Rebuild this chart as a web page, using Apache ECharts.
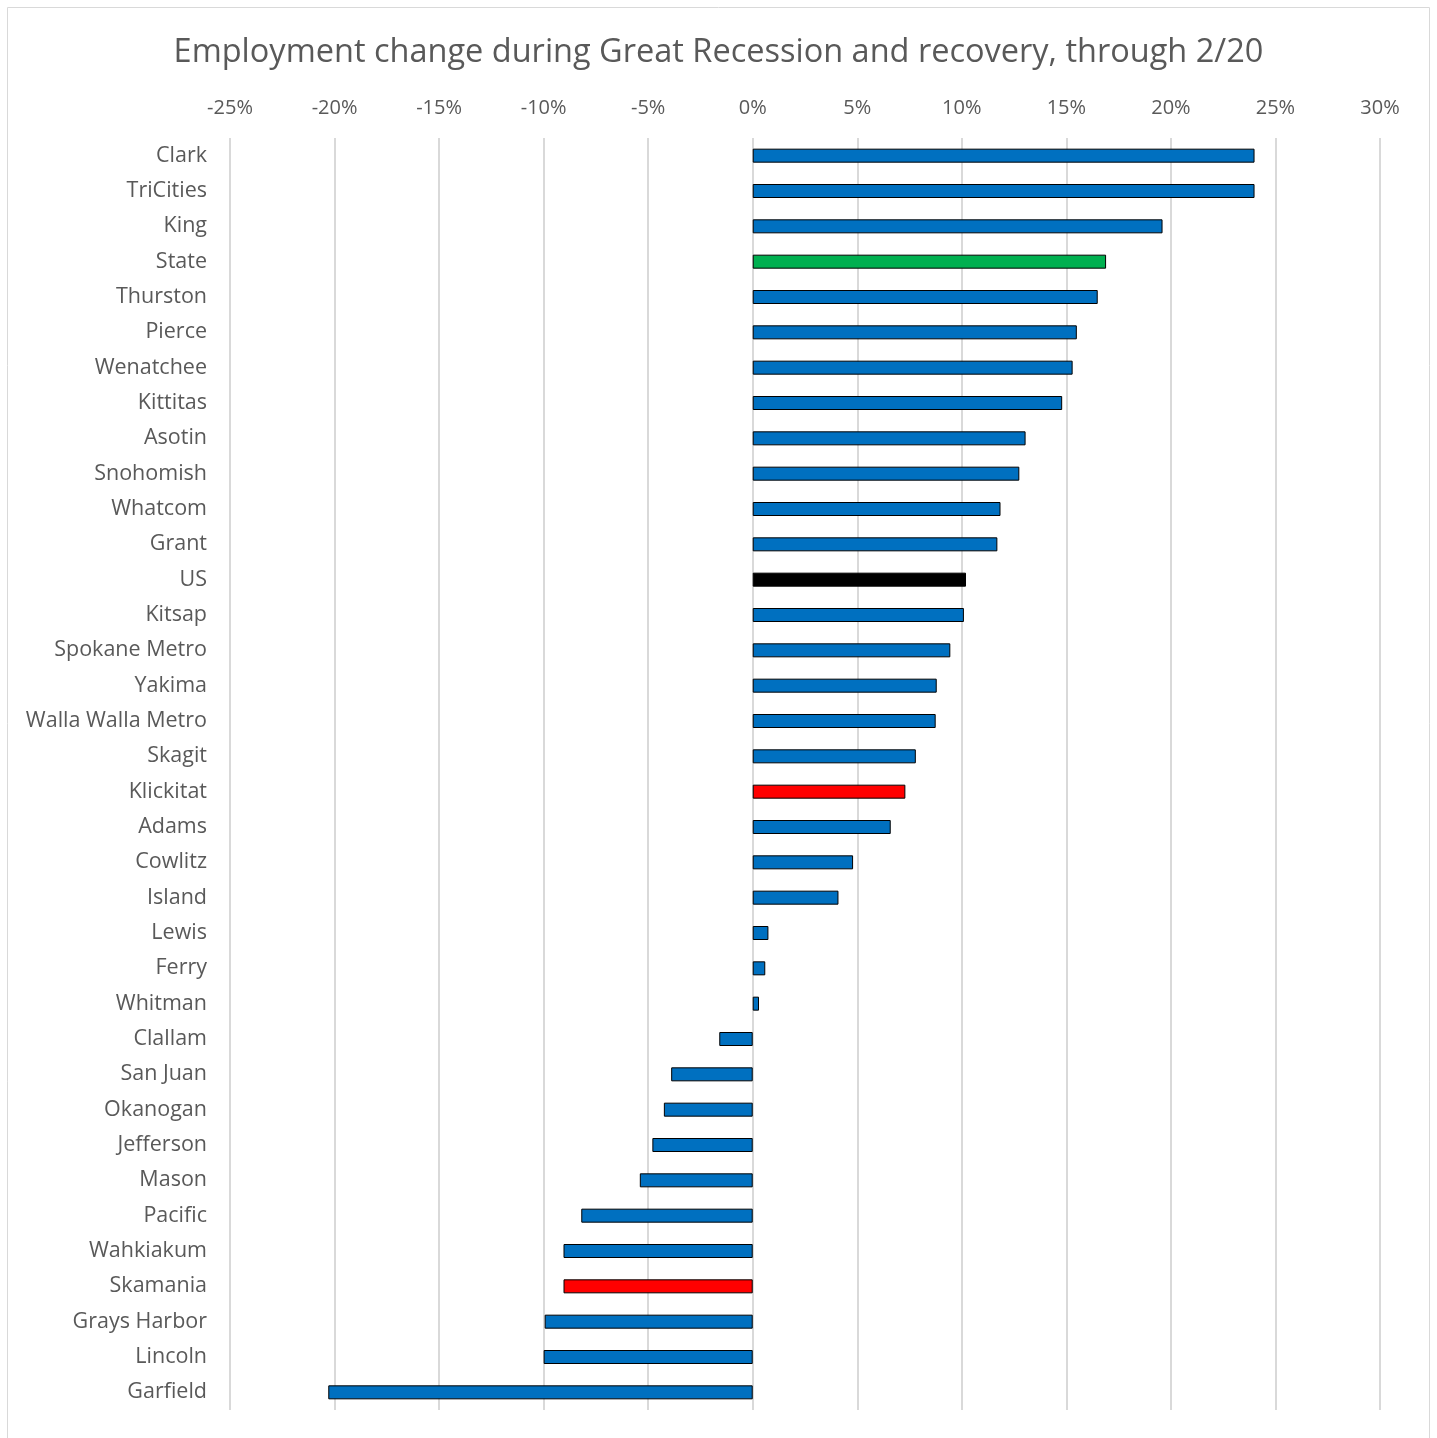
<!DOCTYPE html>
<html>
<head>
<meta charset="utf-8">
<script src="https://cdn.jsdelivr.net/npm/echarts@6/dist/echarts.min.js"></script>
<style>
  html, body { margin: 0; padding: 0; background: #fff; }
  #chart { width: 1437px; height: 1438px; }
</style>
</head>
<body>
<div id="chart"></div>
<script>
// categories, top to bottom
const areas = ['Clark', 'TriCities', 'King', 'State', 'Thurston', 'Pierce', 'Wenatchee', 'Kittitas',
  'Asotin', 'Snohomish', 'Whatcom', 'Grant', 'US', 'Kitsap', 'Spokane Metro', 'Yakima',
  'Walla Walla Metro', 'Skagit', 'Klickitat', 'Adams', 'Cowlitz', 'Island', 'Lewis', 'Ferry',
  'Whitman', 'Clallam', 'San Juan', 'Okanogan', 'Jefferson', 'Mason', 'Pacific', 'Wahkiakum',
  'Skamania', 'Grays Harbor', 'Lincoln', 'Garfield'];

// employment change, percent
const change = [24.0, 24.0, 19.6, 16.9, 16.5, 15.5, 15.3, 14.8,
  13.05, 12.75, 11.85, 11.7, 10.2, 10.1, 9.45, 8.8,
  8.75, 7.8, 7.3, 6.6, 4.8, 4.1, 0.75, 0.6,
  0.3, -1.6, -3.9, -4.25, -4.8, -5.4, -8.2, -9.05,
  -9.05, -9.95, -10.0, -20.3];

const xTicks = { min: -25, max: 30, step: 5 };

const blue = '#0070C0';
const special = { 'State': '#00B050', 'US': '#000000', 'Klickitat': '#FF0000', 'Skamania': '#FF0000' };

const chart = echarts.init(document.getElementById('chart'));
const textColor = '#595959';
const font = '"Open Sans", sans-serif';

chart.setOption({
  animation: false,
  title: {
    text: 'Employment change during Great Recession and recovery, through 2/20',
    left: 'center',
    top: 31,
    textStyle: { fontFamily: font, fontSize: 32.5, fontWeight: 'normal', color: textColor }
  },
  graphic: [{
    type: 'rect',
    shape: { x: 7.5, y: 7.5, width: 1422, height: 1440 },
    style: { fill: 'none', stroke: '#d9d9d9', lineWidth: 1 },
    silent: true
  }],
  grid: { left: 230, right: 57, top: 138, bottom: 28 },
  xAxis: {
    type: 'value',
    position: 'top',
    min: xTicks.min,
    max: xTicks.max,
    interval: xTicks.step,
    axisLine: { show: false },
    axisTick: { show: false },
    axisLabel: {
      formatter: v => v + '%',
      color: textColor,
      fontFamily: font,
      fontSize: 20,
      margin: 20
    },
    splitLine: { lineStyle: { color: '#d9d9d9', width: 2 } }
  },
  yAxis: {
    type: 'category',
    inverse: true,
    data: areas,
    axisLine: { show: false },
    axisTick: { show: false },
    axisLabel: { color: textColor, fontFamily: font, fontSize: 21.5, margin: 23 }
  },
  series: [{
    type: 'bar',
    barWidth: 14,
    data: change.map((v, i) => ({
      value: v,
      itemStyle: { color: special[areas[i]] || blue }
    })),
    itemStyle: { borderColor: '#000', borderWidth: 1 }
  }]
});
</script>
</body>
</html>
